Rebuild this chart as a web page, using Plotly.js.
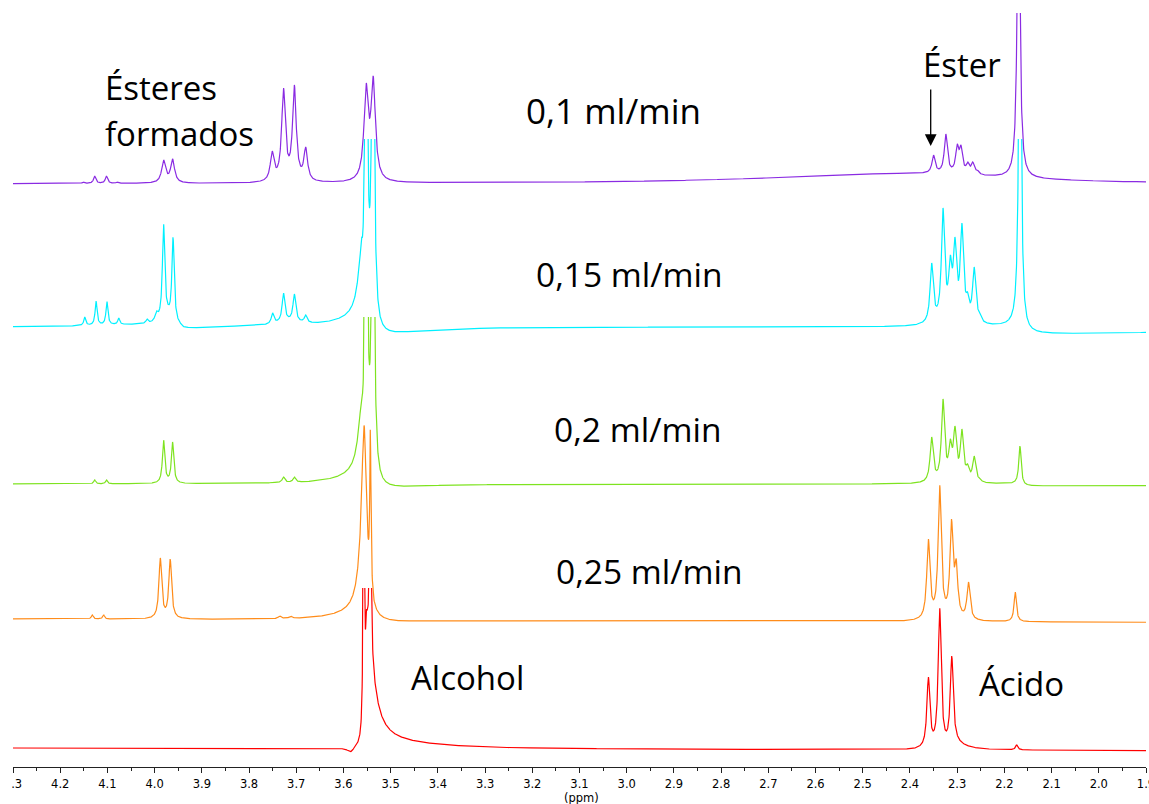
<!DOCTYPE html>
<html><head><meta charset="utf-8">
<script src="https://cdn.plot.ly/plotly-3.0.1.min.js"></script>
<style>html,body{margin:0;padding:0;background:#fff}</style>
</head><body><div id="chart" style="width:1149px;height:804px"></div>
<script>
// ================= DATA =================
// chemical shift axis (ppm)
const ppmRange = [4.3, 1.9];
const tickValues = [4.3,4.2,4.1,4.0,3.9,3.8,3.7,3.6,3.5,3.4,3.3,3.2,3.1,3.0,2.9,2.8,2.7,2.6,2.5,2.4,2.3,2.2,2.1,2.0,1.9];
const tickLabels = ['\u00a0\u00a0.3','4.2','4.1','4.0','3.9','3.8','3.7','3.6','3.5','3.4','3.3','3.2','3.1','3.0','2.9','2.8','2.7','2.6','2.5','2.4','2.3','2.2','2.1','2.0','1.9'];
const seriesNames = ['0,1 ml/min','0,15 ml/min','0,2 ml/min','0,25 ml/min','Reactivos'];

// Each spectrum: resolved peaks (shift, observed height, half width) and broad baseline components
// 0,1 ml/min
const p1Shift  = [4.151,4.127,4.102,4.079,3.981,3.962,3.751,3.727,3.704,3.680,3.552,3.537,2.350,2.324,2.300,2.292,2.2775,2.267,2.257,2.170,1.955];
const p1Height = [2,8,8,2,24,25,33,96,99,37,101,108,29,50,40,39,22,22,14,320,2];
const p1Width  = [.003,.003,.003,.003,.005,.005,.0047,.0047,.0047,.0047,.0055,.0055,.004,.004,.004,.004,.004,.004,.004,.0035,.004];
const b1Shift = [2.40], b1Amp = [10.5], b1WidthL = [.35], b1WidthR = [.25];
const tilt1 = 0;
// 0,15 ml/min
const p2Shift  = [4.148,4.124,4.101,4.076,4.016,3.996,3.981,3.961,3.750,3.727,3.704,3.680,3.552,3.5375,2.354,2.330,2.3146,2.3047,2.290,2.278,2.264,2.2527,2.167];
const p2Height = [10,26,25.5,9,8,16,103,90,14,34,33,12,420,420,64,119,72,90,104,35,60,15,420];
const p2Width  = [.0025,.0025,.0025,.0025,.003,.004,.003,.003,.0035,.0035,.0035,.0035,.003,.003,.004,.004,.004,.004,.004,.004,.004,.004,.003];
const b2Shift = [4.05,3.972,3.94,3.715,3.562,3.562,3.535,2.31,2.16];
const b2Amp   = [2,6,-3,4,40,8,-9,5,-7];
const b2WidthL= [.1,.015,.005,.03,.01,.06,.003,.03,.003];
const b2WidthR= [.1,.006,.05,.03,.003,.003,.1,.03,.5];
const tilt2 = 0;
// 0,2 ml/min
const p3Shift  = [4.127,4.102,3.981,3.962,3.750,3.727,3.704,3.680,3.552,3.5375,2.354,2.330,2.3146,2.3047,2.290,2.278,2.264,2.2527,2.167];
const p3Height = [4,4,44,42,2,7,7,2,420,420,47,85,45,58,55,20,28,6,38];
const p3Width  = [.0025,.0025,.003,.003,.0035,.0035,.0035,.0035,.003,.003,.004,.004,.004,.004,.004,.004,.004,.004,.003];
const b3Shift = [3.562,3.562,3.535,2.16];
const b3Amp   = [40,8,-5,-2];
const b3WidthL= [.01,.06,.003,.003];
const b3WidthR= [.003,.003,.1,.5];
const tilt3 = 0;
// 0,25 ml/min
const p4Shift  = [4.132,4.108,3.988,3.967,3.735,3.712,3.556,3.543,2.361,2.337,2.312,2.302,2.276,2.177];
const p4Height = [4,4,61,60,3,3,193,191,80,134,100,60,37,27];
const p4Width  = [.0025,.0025,.0035,.0035,.0035,.0035,.006,.0015,.004,.004,.004,.004,.004,.003];
const b4Shift = [3.56,3.56,3.535];
const b4Amp   = [30,8,-3];
const b4WidthL= [.012,.06,.003];
const b4WidthR= [.006,.02,.1];
const tilt4 = -3.3;
// reagents (alcohol + acid)
const p5Shift  = [3.557,3.543,2.361,2.337,2.3115,2.174];
const p5Height = [420,420,71,140,92,3];
const p5Width  = [.0013,.0013,.0038,.0038,.0038,.003];
const b5Shift = [3.551,3.548,3.585,2.31];
const b5Amp   = [110,8,-5,6];
const b5WidthL= [.003,.003,.008,.004];
const b5WidthR= [.017,.13,.008,.03];
const tilt5 = -2.7;

// ================= LAYOUT / STYLE =================
const W = 1149, H = 804, mL = 13, mR = 3, mT = 0, mB = 37;
const plotW = W - mL - mR, plotH = H - mT - mB;
const rows = [ // baseline pixel and clipping pixel of every stacked spectrum
  {base:184, clip:13,  color:'#8a2be2'},
  {base:327, clip:139, color:'#00f0ff'},
  {base:484, clip:317, color:'#7ee320'},
  {base:619, clip:424, color:'#ff8c1a'},
  {base:748, clip:588, color:'#ff0000'}
];
const specs = [
  [p1Shift,p1Height,p1Width,b1Shift,b1Amp,b1WidthL,b1WidthR,tilt1],
  [p2Shift,p2Height,p2Width,b2Shift,b2Amp,b2WidthL,b2WidthR,tilt2],
  [p3Shift,p3Height,p3Width,b3Shift,b3Amp,b3WidthL,b3WidthR,tilt3],
  [p4Shift,p4Height,p4Width,b4Shift,b4Amp,b4WidthL,b4WidthR,tilt4],
  [p5Shift,p5Height,p5Width,b5Shift,b5Amp,b5WidthL,b5WidthR,tilt5]
];

function lor(x, c, wl, wr){ const w = x > c ? wl : wr; const d = (x - c)/w; return 1/(1+d*d); }
function buildSpectrum(s){
  const [ps,ph,pw,bs,ba,bwl,bwr,tilt] = s;
  const base = x => { let v = tilt*(ppmRange[0]-x)/(ppmRange[0]-ppmRange[1]);
    for (let k=0;k<bs.length;k++) v += ba[k]*lor(x,bs[k],bwl[k],bwr[k]); return v; };
  // solve amplitudes so that the summed curve passes through the observed peak heights
  const A = ph.slice();
  for (let it=0; it<200; it++){
    for (let i=0;i<ps.length;i++){
      let o = base(ps[i]);
      for (let j=0;j<ps.length;j++) if (j!==i) o += A[j]*lor(ps[i],ps[j],pw[j],pw[j]);
      A[i] = ph[i] - o;
    }
  }
  const xs=[], ys=[];
  const n = Math.round((ppmRange[0]-ppmRange[1])/0.0004);
  for (let k=0;k<=n;k++){
    const x = ppmRange[0] - k*0.0004;
    let v = base(x);
    for (let j=0;j<ps.length;j++) v += A[j]*lor(x,ps[j],pw[j],pw[j]);
    xs.push(x); ys.push(v);
  }
  return {xs, ys};
}

const data = [], layout = {
  width: W, height: H, margin:{l:mL, r:mR, t:mT, b:mB},
  paper_bgcolor:'#fff', plot_bgcolor:'rgba(0,0,0,0)', showlegend:false,
  font:{family:'DejaVu Sans', size:11, color:'#000'},
  xaxis:{range:ppmRange, tickmode:'array', tickvals:tickValues, ticktext:tickLabels,
    showgrid:false, zeroline:false, showline:true, linecolor:'#222', linewidth:1,
    ticks:'outside', ticklen:5, tickwidth:1, tickcolor:'#222', ticklabelshift:1.5, ticklabelstandoff:1,
    ticklabeloverflow:'allow',
    tickfont:{family:'DejaVu Sans', size:11.5, color:'#000'}, anchor:'y',
    minor:{tickmode:'linear', tick0:1.9, dtick:0.05, ticks:'outside', ticklen:3, tickcolor:'#222', showgrid:false}},
  annotations:[]
};
rows.forEach((r,i)=>{
  const sp = buildSpectrum(specs[i]);
  const ax = i===4 ? '' : String(5-i);
  const yname = 'yaxis' + ax;
  layout[yname] = {domain:[0, (plotH-(r.clip-mT))/plotH], range:[-(plotH-(r.base-mT)), r.base-r.clip],
    visible:false, fixedrange:true, anchor:'x'};
  data.push({x:sp.xs, y:sp.ys, xaxis:'x', yaxis:'y'+ax, type:'scatter', mode:'lines', name:seriesNames[i],
    line:{color:r.color, width:1.2}, hoverinfo:'skip'});
});

const py = y => (plotH-(y-mT))/plotH;           // page pixel -> paper
const pxToPpm = x => ppmRange[0] - (x-mL)/plotW*(ppmRange[0]-ppmRange[1]);
function label(text, left, baseline, size){
  const f = {family:'Open Sans', size:size||33, color:'#000'};
  layout.annotations.push({text, x:pxToPpm(left), xref:'x', xanchor:'left', y:py(baseline-0.39*f.size),
    yref:'paper', yanchor:'middle', showarrow:false, font:f, borderpad:0});
}
label('Ésteres', 104, 100);
label('formados', 104, 146);
label('Éster', 922, 77);
label('0,1 ml/min', 525, 124, 35);
label('0,15 ml/min', 535, 287, 33.5);
label('0,2 ml/min', 553, 442, 33.5);
label('0,25 ml/min', 555, 584, 33.5);
label('Alcohol', 410, 690);
label('Ácido', 978, 696);
layout.annotations.push({text:'', x:pxToPpm(930.7), xref:'x', y:py(146), yref:'paper', showarrow:true,
  ax:0, ay:-58, arrowhead:2, arrowsize:1.8, arrowwidth:1.3, arrowcolor:'#000'});
layout.annotations.push({text:'(ppm)', x:pxToPpm(581.7), xref:'x', y:py(798), yref:'paper', yanchor:'middle',
  showarrow:false, borderpad:0, font:{family:'DejaVu Sans', size:11.5, color:'#000'}});

Plotly.newPlot('chart', data, layout, {displayModeBar:false, staticPlot:true});
</script></body></html>
